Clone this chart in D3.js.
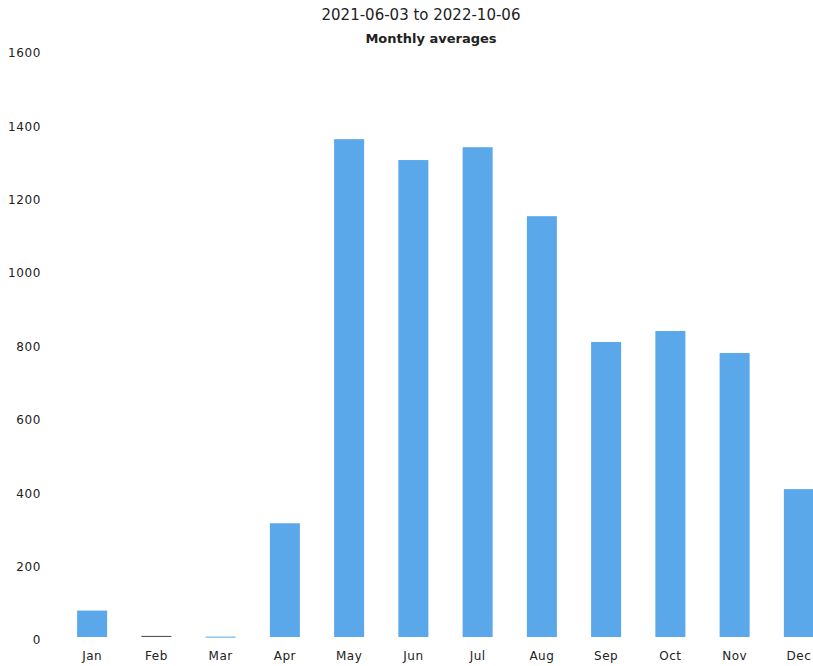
<!DOCTYPE html>
<html><head><meta charset="utf-8">
<script src="https://cdn.jsdelivr.net/npm/d3@7"></script>
<style>body{margin:0;background:#fff;}svg{display:block;}</style>
</head><body>
<script>
const months = ["Jan","Feb","Mar","Apr","May","Jun","Jul","Aug","Sep","Oct","Nov","Dec"];
const values = [72, 3, 1, 310, 1357, 1300, 1335, 1147, 804, 834, 774, 403];
const yTicks = [0,200,400,600,800,1000,1200,1400,1600];
const titleText = "2021-06-03 to 2022-10-06";
const subtitleText = "Monthly averages";

const W = 813, H = 666;
const svg = d3.select("body").append("svg").attr("width", W).attr("height", H);

const x = d3.scaleBand().domain(months).range([60, 831]).paddingInner(0.533).paddingOuter(0.2665);
const y = d3.scaleLinear().domain([0, 1600]).range([637, 50]);

svg.append("text").attr("x", 421).attr("y", 20).attr("text-anchor","middle")
  .attr("font-family","DejaVu Sans").attr("font-size",15).attr("fill","#222").text(titleText);
svg.append("text").attr("x", 431).attr("y", 43).attr("text-anchor","middle")
  .attr("font-family","DejaVu Sans").attr("font-size",13).attr("font-weight","bold").attr("fill","#222").text(subtitleText);

const yAxis = d3.axisLeft(y).tickValues(yTicks).tickFormat(d3.format("d")).tickSize(0).tickPadding(0);
const gy = svg.append("g").attr("transform","translate(41,3)").call(yAxis);
gy.select(".domain").remove();
gy.selectAll("text").attr("font-family","DejaVu Sans").attr("font-size",12).attr("letter-spacing",0.6).attr("fill","#222");

const xAxis = d3.axisBottom(x).tickSize(0).tickPadding(0);
const gx = svg.append("g").attr("transform","translate(0,651)").call(xAxis);
gx.select(".domain").remove();
gx.selectAll("text").attr("font-family","DejaVu Sans").attr("font-size",12).attr("letter-spacing",0.5).attr("fill","#222");

svg.append("g").selectAll("rect").data(values).join("rect")
  .attr("x",(d,i)=>x(months[i]))
  .attr("width", x.bandwidth())
  .attr("y", d=>y(d))
  .attr("height", d=>Math.max(1, y(0)-y(d)))
  .attr("fill", (d,i)=> i===1 ? "#555" : "#5aa7ea");
</script>
</body></html>
